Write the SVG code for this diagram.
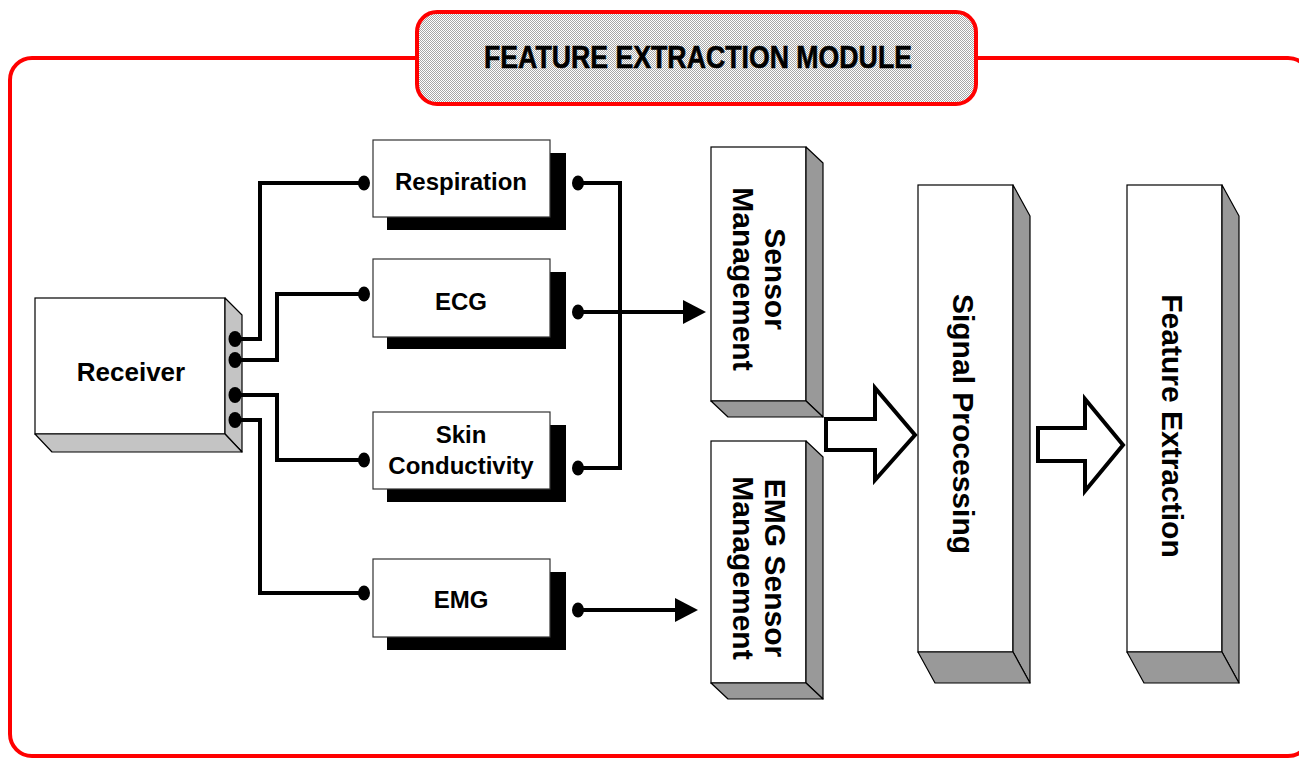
<svg xmlns="http://www.w3.org/2000/svg" width="1299" height="759" viewBox="0 0 1299 759">
<defs>
<pattern id="dots" width="2" height="2" patternUnits="userSpaceOnUse">
<rect width="2" height="2" fill="#ffffff"/>
<rect width="1" height="1" fill="#a6a6a6"/>
<rect x="1" y="1" width="1" height="1" fill="#a6a6a6"/>
</pattern>
</defs>
<style>
.t{font-family:"Liberation Sans",Arial,sans-serif;font-weight:bold;fill:#000;text-anchor:middle}
.front{fill:#fff;stroke:#000;stroke-width:1.2}
.side{fill:#999;stroke:#000;stroke-width:1.2;stroke-linejoin:round}
.side2{fill:#c4c4c4;stroke:#000;stroke-width:1.2;stroke-linejoin:round}
.shadow{fill:#000}
.box{fill:#fff;stroke:#333;stroke-width:1.2}
.wire{fill:none;stroke:#000;stroke-width:4;stroke-linejoin:miter}
.dot{fill:#000}
.big{fill:#fff;stroke:#000;stroke-width:4;stroke-linejoin:miter}
</style>
<rect x="10" y="58" width="1300" height="698" rx="22" fill="#fff" stroke="#ff0000" stroke-width="4"/>
<g id="title">
<rect x="417" y="12" width="559" height="92" rx="20" fill="url(#dots)" stroke="#ff0000" stroke-width="4"/>
<text class="t" x="698" y="68" font-size="32" stroke="#000" stroke-width="0.6" textLength="428" lengthAdjust="spacingAndGlyphs">FEATURE EXTRACTION MODULE</text>
</g>
<g id="receiver">
<rect class="front" x="35" y="298" width="190" height="136"/>
<polygon class="side2" points="225,298 242,315 242,452 225,434"/>
<polygon class="side2" points="35,434 225,434 242,452 52,452"/>
<text class="t" x="131" y="381" font-size="26">Receiver</text>
</g>
<g id="respiration">
<rect class="shadow" x="387" y="153" width="179" height="77"/>
<rect class="box" x="373" y="140" width="177" height="77"/>
<text class="t" x="461" y="190" font-size="24">Respiration</text>
</g>
<g id="ecg">
<rect class="shadow" x="387" y="272" width="179" height="77"/>
<rect class="box" x="373" y="259" width="177" height="78"/>
<text class="t" x="461" y="310" font-size="24">ECG</text>
</g>
<g id="skin">
<rect class="shadow" x="387" y="425" width="179" height="77"/>
<rect class="box" x="373" y="412" width="177" height="77"/>
<text class="t" x="461" y="443" font-size="24">Skin</text>
<text class="t" x="461" y="474" font-size="24">Conductivity</text>
</g>
<g id="emg">
<rect class="shadow" x="387" y="572" width="179" height="78"/>
<rect class="box" x="373" y="559" width="177" height="78"/>
<text class="t" x="461" y="608" font-size="24">EMG</text>
</g>
<g id="sensor-management">
<rect class="front" x="711" y="147" width="95" height="254"/>
<polygon class="side" points="806,147 823,163 823,417 806,401"/>
<polygon class="side" points="711,401 806,401 823,417 728,417"/>
<text class="t" font-size="30" transform="translate(765,279) rotate(90)">Sensor</text>
<text class="t" font-size="30" transform="translate(733,279) rotate(90)">Management</text>
</g>
<g id="emg-sensor-management">
<rect class="front" x="711" y="441" width="95" height="242"/>
<polygon class="side" points="806,441 823,457 823,699 806,683"/>
<polygon class="side" points="711,683 806,683 823,699 728,699"/>
<text class="t" font-size="30" transform="translate(765,568) rotate(90)">EMG Sensor</text>
<text class="t" font-size="30" transform="translate(733,568) rotate(90)">Management</text>
</g>
<g id="signal-processing">
<rect class="front" x="918" y="185" width="95" height="467"/>
<polygon class="side" points="1013,185 1030,216 1030,683 1013,652"/>
<polygon class="side" points="918,652 1013,652 1030,683 935,683"/>
<text class="t" font-size="30" transform="translate(953,424) rotate(90)">Signal Processing</text>
</g>
<g id="feature-extraction">
<rect class="front" x="1127" y="185" width="95" height="467"/>
<polygon class="side" points="1222,185 1239,216 1239,683 1222,652"/>
<polygon class="side" points="1127,652 1222,652 1239,683 1144,683"/>
<text class="t" font-size="30" transform="translate(1162,426) rotate(90)">Feature Extraction</text>
</g>
<g id="connectors">
<path class="wire" d="M235,339 H260 V183 H363"/>
<path class="wire" d="M235,360 H277 V294 H363"/>
<path class="wire" d="M235,395 H277 V460 H363"/>
<path class="wire" d="M235,420 H260 V593 H363"/>
<path class="wire" d="M578,183 H620 V468 H578"/>
<path class="wire" d="M578,312 H686"/>
<polygon class="dot" points="683,300 706,312 683,324"/>
<path class="wire" d="M578,610 H678"/>
<polygon class="dot" points="675,598 698,610 675,622"/>
<ellipse class="dot" cx="235" cy="339" rx="6.5" ry="8"/>
<ellipse class="dot" cx="235" cy="360" rx="6.5" ry="8"/>
<ellipse class="dot" cx="235" cy="395" rx="6.5" ry="8"/>
<ellipse class="dot" cx="235" cy="420" rx="6.5" ry="8"/>
<ellipse class="dot" cx="364" cy="183" rx="6" ry="7.5"/>
<ellipse class="dot" cx="364" cy="294" rx="6" ry="7.5"/>
<ellipse class="dot" cx="364" cy="460" rx="6" ry="7.5"/>
<ellipse class="dot" cx="364" cy="593" rx="6" ry="7.5"/>
<ellipse class="dot" cx="578" cy="183" rx="6" ry="7.5"/>
<ellipse class="dot" cx="578" cy="312" rx="6" ry="7.5"/>
<ellipse class="dot" cx="578" cy="468" rx="6" ry="7.5"/>
<ellipse class="dot" cx="578" cy="610" rx="6" ry="7.5"/>
<polygon class="big" points="826,419 875,419 875,388 915,435 875,480 875,450 826,450"/>
<polygon class="big" points="1038,428 1085,428 1085,399 1123,445 1085,491 1085,461 1038,461"/>
</g>
</svg>
